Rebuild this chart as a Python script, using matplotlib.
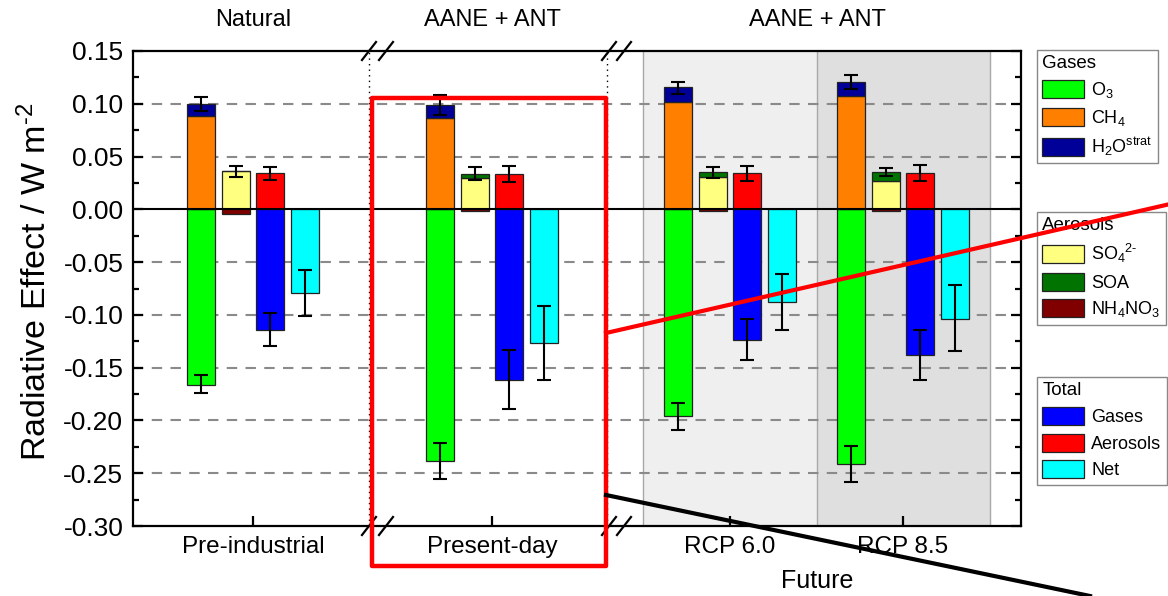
import numpy as np
import matplotlib
matplotlib.use("Agg")
import matplotlib.pyplot as plt
from matplotlib.patches import Patch, Rectangle
from matplotlib.lines import Line2D

plt.rcParams['font.family'] = ['Liberation Sans', 'DejaVu Sans']
plt.rcParams['mathtext.fontset'] = 'custom'
plt.rcParams['mathtext.rm'] = 'Liberation Sans'
plt.rcParams['mathtext.it'] = 'Liberation Sans:italic'
plt.rcParams['mathtext.bf'] = 'Liberation Sans:bold'
plt.rcParams['axes.unicode_minus'] = False

# ---------------- data ----------------
groups = ['Pre-industrial', 'Present-day', 'RCP 6.0', 'RCP 8.5']
top_labels = ['Natural', 'AANE + ANT', 'AANE + ANT']

o3 = [-0.166, -0.2385, -0.196, -0.241]
o3_lo = [-0.174, -0.255, -0.209, -0.258]
o3_hi = [-0.157, -0.221, -0.183, -0.224]

ch4 = [0.088, 0.087, 0.102, 0.107]
h2o_strat = [0.012, 0.012, 0.0136, 0.0138]
gas_pos_lo = [0.093, 0.089, 0.109, 0.114]
gas_pos_hi = [0.106, 0.108, 0.121, 0.127]

so4 = [0.036, 0.030, 0.031, 0.027]
soa = [0.0, 0.0036, 0.0045, 0.008]
nh4no3 = [-0.004, -0.002, -0.002, -0.002]
aer_comp_lo = [0.031, 0.028, 0.030, 0.0316]
aer_comp_hi = [0.041, 0.040, 0.040, 0.039]

aer_total = [0.034, 0.0334, 0.0344, 0.034]
aer_total_lo = [0.028, 0.026, 0.027, 0.027]
aer_total_hi = [0.040, 0.041, 0.041, 0.042]

gas_total = [-0.114, -0.1615, -0.1235, -0.138]
gas_total_lo = [-0.129, -0.189, -0.143, -0.162]
gas_total_hi = [-0.0985, -0.133, -0.104, -0.114]

net = [-0.079, -0.127, -0.088, -0.1035]
net_lo = [-0.101, -0.162, -0.114, -0.1345]
net_hi = [-0.0577, -0.092, -0.0615, -0.072]

y_ticks = [-0.30, -0.25, -0.20, -0.15, -0.10, -0.05, 0.00, 0.05, 0.10, 0.15]
y_ticklabels = ['-0.30', '-0.25', '-0.20', '-0.15', '-0.10', '-0.05', '0.00', '0.05', '0.10', '0.15']

# ---------------- colours ----------------
C_O3 = '#00ff00'
C_CH4 = '#ff8000'
C_H2O = '#000099'
C_SO4 = '#ffff80'
C_SOA = '#007300'
C_NH4 = '#800000'
C_GAS = '#0000ff'
C_AER = '#ff0000'
C_NET = '#00ffff'

W, H = 1168, 596
fig = plt.figure(figsize=(W / 100, H / 100), dpi=100)
ax_l, ax_r, ax_t, ax_b = 133, 1021, 51, 526
ax = fig.add_axes([ax_l / W, 1 - ax_b / H, (ax_r - ax_l) / W, (ax_b - ax_t) / H])

unit = 34.5
def px2d(p):
    return (p - 253) / unit

group_x = np.array([px2d(253), px2d(492), px2d(730), px2d(903)])
bw = 28 / unit

ax.set_xlim(px2d(ax_l), px2d(ax_r))
ax.set_ylim(-0.30, 0.15)

# shaded future regions
ax.axvspan(px2d(643), px2d(817), color='#efefef', zorder=0, lw=0)
ax.axvspan(px2d(817), px2d(990), color='#dfdfdf', zorder=0, lw=0)
for p in (643, 817, 990):
    ax.axvline(px2d(p), color='#a8a8a8', lw=1.0, zorder=0.5)

# grid
for v in y_ticks[1:-1]:
    if abs(v) > 1e-9:
        ax.axhline(v, color='#8a8a8a', lw=1.5, ls=(0, (5, 4)), zorder=1)
ax.axhline(0, color='black', lw=1.5, zorder=3.5)

# dotted separators
for p in (369, 607):
    ax.axvline(px2d(p), color='black', lw=1.0, ls=(0, (1, 3)), zorder=1.5)

ek = dict(color='black', elinewidth=1.5, capsize=5, capthick=1.5, ls='none', zorder=4)
bk = dict(width=bw, edgecolor='#222222', linewidth=0.9, zorder=3)

p1 = group_x - 1.5
p2 = group_x - 0.5
p3 = group_x + 0.5
p4 = group_x + 1.5

ch4a = np.array(ch4)
h2oa = np.array(h2o_strat)
so4a = np.array(so4)
soaa = np.array(soa)

ax.bar(p1, o3, color=C_O3, **bk)
ax.bar(p1, ch4a, color=C_CH4, **bk)
ax.bar(p1, h2oa, bottom=ch4a, color=C_H2O, **bk)
ax.bar(p2, so4a, color=C_SO4, **bk)
ax.bar(p2, soaa, bottom=so4a, color=C_SOA, **bk)
ax.bar(p2, nh4no3, color=C_NH4, **bk)
ax.bar(p3, aer_total, color=C_AER, **bk)
ax.bar(p3, gas_total, color=C_GAS, **bk)
ax.bar(p4, net, color=C_NET, **bk)

def eb(x, y, lo, hi):
    y = np.asarray(y, float)
    yerr = np.vstack([y - np.asarray(lo), np.asarray(hi) - y])
    ax.errorbar(x, y, yerr=yerr, **ek)

eb(p1, o3, o3_lo, o3_hi)
eb(p1, ch4a + h2oa, gas_pos_lo, gas_pos_hi)
eb(p2, so4a + soaa, aer_comp_lo, aer_comp_hi)
eb(p3, aer_total, aer_total_lo, aer_total_hi)
eb(p3, gas_total, gas_total_lo, gas_total_hi)
eb(p4, net, net_lo, net_hi)

# axes styling
for s in ax.spines.values():
    s.set_linewidth(1.6)
ax.set_xticks(group_x)
ax.set_xticklabels(groups, fontsize=17.5)
ax.set_yticks(y_ticks)
ax.set_yticklabels(y_ticklabels, fontsize=19)
ax.set_yticks(np.arange(-0.275, 0.15, 0.05), minor=True)
ax.tick_params(axis='y', which='major', direction='in', length=7, width=1.6,
               left=True, right=True, pad=7)
ax.tick_params(axis='y', which='minor', direction='in', length=4.5, width=1.6,
               left=True, right=True)
ax.tick_params(axis='x', which='major', direction='in', length=7, width=1.6,
               bottom=True, top=False, pad=7)

# axis break marks
for p in (369, 386, 609, 624):
    for ypx in (ax_b, ax_t):
        fig.add_artist(Line2D([(p - 7) / W, (p + 7) / W],
                              [1 - (ypx + 9) / H, 1 - (ypx - 9) / H],
                              transform=fig.transFigure, color='black', lw=1.6))

# labels
fig.text(36 / W, 1 - 282 / H, 'Radiative Effect / W m$^{\\text{-2}}$', rotation=90,
         ha='center', va='center', fontsize=24.5)
tr = ax.get_xaxis_transform()
ax.text(group_x[0], 1.065, top_labels[0], transform=tr, ha='center', va='center', fontsize=17)
ax.text(group_x[1], 1.065, top_labels[1], transform=tr, ha='center', va='center', fontsize=17)
ax.text(px2d(817), 1.065, top_labels[2], transform=tr, ha='center', va='center', fontsize=17)
ax.text(px2d(817), -0.115, 'Future', transform=tr, ha='center', va='center', fontsize=18)

# legends
lk = dict(loc='upper left', fontsize=13, title_fontsize=13.5, frameon=True, fancybox=False,
          edgecolor='#888888', framealpha=1, borderaxespad=0, borderpad=0.3,
          handlelength=2.3, handleheight=1.15, labelspacing=0.42, handletextpad=0.4,
          alignment='left')
pe = dict(edgecolor='#222222', linewidth=0.9)
leg1 = fig.legend(handles=[Patch(facecolor=C_O3, **pe), Patch(facecolor=C_CH4, **pe),
                           Patch(facecolor=C_H2O, **pe)],
                  labels=['O$_3$', 'CH$_4$', 'H$_2$O$^{\\mathrm{strat}}$'],
                  title='Gases', bbox_to_anchor=(1037 / W, 1 - 50 / H), **lk)
leg2 = fig.legend(handles=[Patch(facecolor=C_SO4, **pe), Patch(facecolor=C_SOA, **pe),
                           Patch(facecolor=C_NH4, **pe)],
                  labels=['SO$_4$$^{\\text{2-}}$', 'SOA', 'NH$_4$NO$_3$'],
                  title='Aerosols', bbox_to_anchor=(1037 / W, 1 - 212 / H), **lk)
leg3 = fig.legend(handles=[Patch(facecolor=C_GAS, **pe), Patch(facecolor=C_AER, **pe),
                           Patch(facecolor=C_NET, **pe)],
                  labels=['Gases', 'Aerosols', 'Net'],
                  title='Total', bbox_to_anchor=(1037 / W, 1 - 377 / H), **lk)
for lg in (leg1, leg2, leg3):
    lg.get_frame().set_linewidth(1.0)

# overlay annotations (highlight box and leader lines)
fig.add_artist(Rectangle((372 / W, 1 - 566 / H), (606 - 372) / W, (566 - 98) / H,
                         fill=False, edgecolor='red', lw=3.2, joinstyle='round',
                         transform=fig.transFigure, zorder=10))
fig.add_artist(Line2D([606 / W, 1168 / W], [1 - 333 / H, 1 - 204.5 / H],
                      transform=fig.transFigure, color='red', lw=3.0, zorder=10))
fig.add_artist(Line2D([606 / W, 1090 / W], [1 - 495 / H, 1 - 596 / H],
                      transform=fig.transFigure, color='black', lw=3.0, zorder=10))

fig.savefig('out.png', dpi=100)
